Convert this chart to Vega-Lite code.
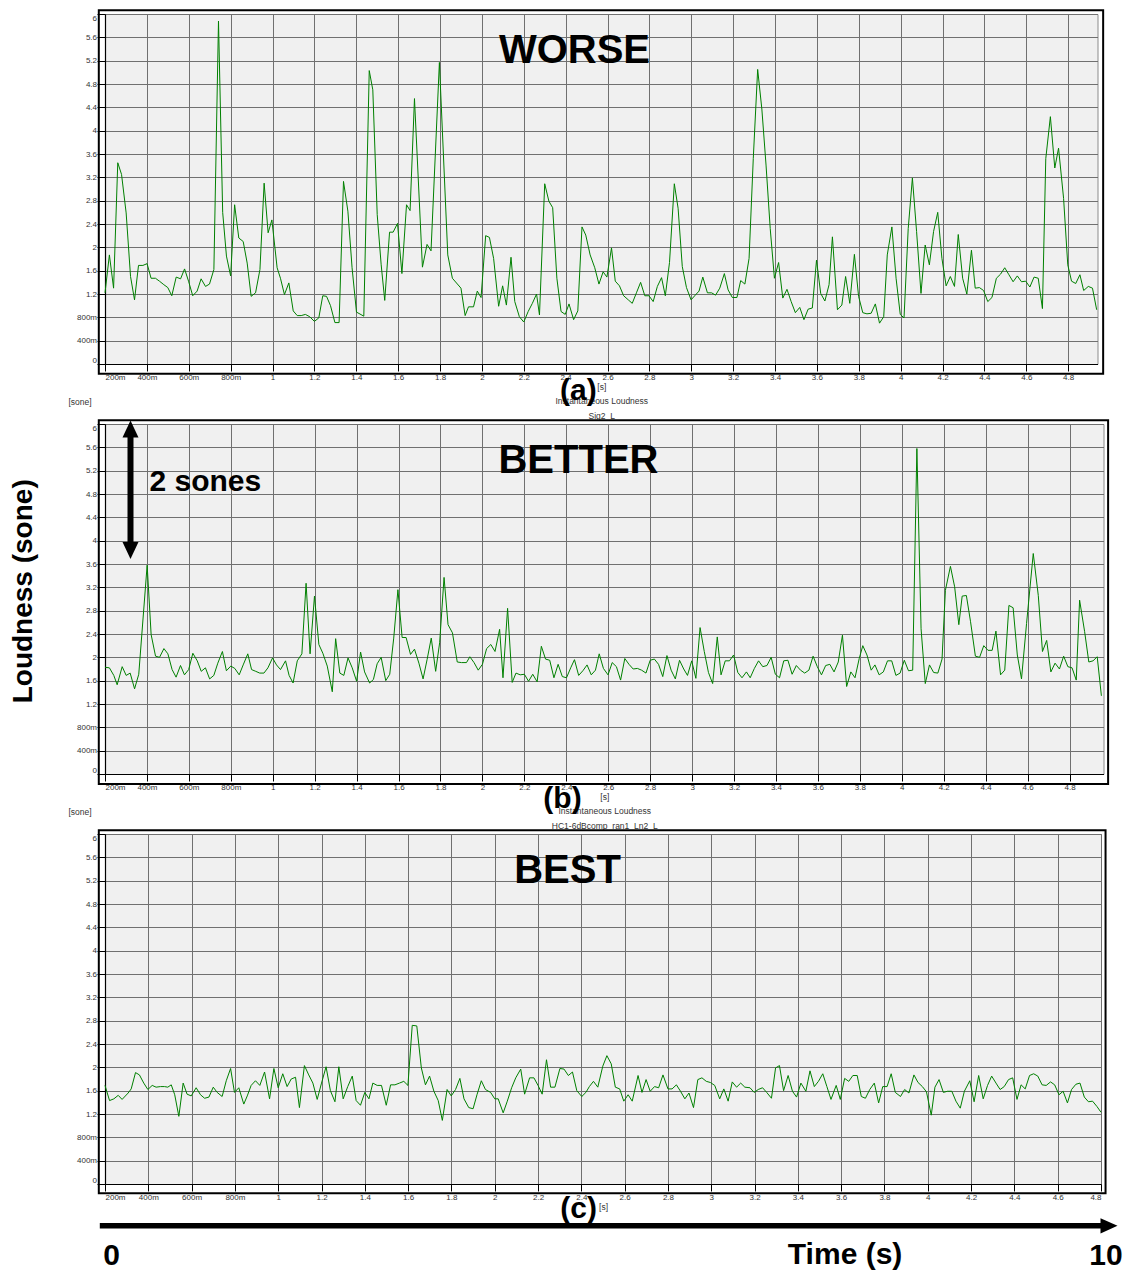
{
"$schema": "https://vega.github.io/schema/vega-lite/v6.json",
"padding": {"left": 9, "top": 8, "right": 5, "bottom": 5},
"background": "white",
"bounds": "flush",
"spacing": 60,
"config": {
  "font": "Liberation Sans",
  "view": {"fill": "#f0f0f0", "stroke": "#8c8c8c", "strokeWidth": 1},
  "axis": {"domainColor": "#000", "domainWidth": 1.2, "tickColor": "#000", "tickWidth": 1, "labelFont": "Liberation Sans", "labelFontSize": 8, "labelColor": "#333", "gridColor": "#707070", "gridWidth": 1, "gridOpacity": 1, "titleFont": "Liberation Sans", "titleFontWeight": "normal", "titleFontSize": 8.5, "titleColor": "#333", "labelOverlap": false, "labelFlush": true, "tickCount": 40},
  "axisX": {"tickSize": 7, "labelPadding": 2, "titleLineHeight": 14.5, "titlePadding": 1},
  "axisY": {"tickSize": 8, "labelPadding": 0.5}
},
"datasets": {
"a": [
{"t":0.2,"v":1.22},{"t":0.221,"v":1.87},{"t":0.241,"v":1.3},{"t":0.261,"v":3.45},{"t":0.279,"v":3.25},{"t":0.301,"v":2.59},{"t":0.322,"v":1.5},{"t":0.341,"v":1.1},{"t":0.36,"v":1.69},{"t":0.381,"v":1.69},{"t":0.401,"v":1.72},{"t":0.42,"v":1.47},{"t":0.441,"v":1.47},{"t":0.46,"v":1.42},{"t":0.481,"v":1.36},{"t":0.5,"v":1.31},{"t":0.519,"v":1.17},{"t":0.54,"v":1.49},{"t":0.561,"v":1.46},{"t":0.58,"v":1.63},{"t":0.599,"v":1.42},{"t":0.619,"v":1.17},{"t":0.64,"v":1.25},{"t":0.659,"v":1.46},{"t":0.68,"v":1.33},{"t":0.699,"v":1.37},{"t":0.72,"v":1.62},{"t":0.742,"v":5.88},{"t":0.762,"v":2.6},{"t":0.78,"v":1.85},{"t":0.8,"v":1.51},{"t":0.819,"v":2.73},{"t":0.839,"v":2.16},{"t":0.86,"v":2.1},{"t":0.879,"v":1.73},{"t":0.898,"v":1.16},{"t":0.919,"v":1.22},{"t":0.94,"v":1.62},{"t":0.96,"v":3.1},{"t":0.979,"v":2.25},{"t":0.997,"v":2.47},{"t":1.022,"v":1.65},{"t":1.038,"v":1.47},{"t":1.057,"v":1.19},{"t":1.078,"v":1.39},{"t":1.099,"v":0.91},{"t":1.118,"v":0.83},{"t":1.137,"v":0.83},{"t":1.157,"v":0.85},{"t":1.178,"v":0.81},{"t":1.2,"v":0.73},{"t":1.221,"v":0.79},{"t":1.24,"v":1.17},{"t":1.258,"v":1.16},{"t":1.277,"v":1.0},{"t":1.298,"v":0.71},{"t":1.318,"v":0.71},{"t":1.339,"v":3.13},{"t":1.36,"v":2.62},{"t":1.38,"v":1.65},{"t":1.401,"v":0.89},{"t":1.436,"v":0.82},{"t":1.462,"v":5.03},{"t":1.479,"v":4.7},{"t":1.5,"v":2.56},{"t":1.519,"v":1.7},{"t":1.536,"v":1.09},{"t":1.559,"v":2.26},{"t":1.576,"v":2.26},{"t":1.597,"v":2.41},{"t":1.618,"v":1.55},{"t":1.64,"v":2.73},{"t":1.657,"v":2.63},{"t":1.678,"v":4.55},{"t":1.716,"v":1.66},{"t":1.738,"v":2.05},{"t":1.757,"v":1.94},{"t":1.797,"v":5.17},{"t":1.837,"v":1.87},{"t":1.859,"v":1.47},{"t":1.9,"v":1.3},{"t":1.92,"v":0.83},{"t":1.936,"v":0.98},{"t":1.96,"v":0.98},{"t":1.978,"v":1.25},{"t":1.996,"v":1.14},{"t":2.018,"v":2.2},{"t":2.036,"v":2.17},{"t":2.056,"v":1.81},{"t":2.08,"v":0.99},{"t":2.099,"v":1.34},{"t":2.117,"v":1.01},{"t":2.139,"v":1.83},{"t":2.157,"v":1.07},{"t":2.179,"v":0.81},{"t":2.2,"v":0.72},{"t":2.221,"v":0.9},{"t":2.241,"v":1.04},{"t":2.261,"v":1.2},{"t":2.275,"v":0.84},{"t":2.3,"v":3.09},{"t":2.32,"v":2.79},{"t":2.338,"v":2.68},{"t":2.358,"v":1.47},{"t":2.378,"v":0.9},{"t":2.398,"v":0.85},{"t":2.416,"v":1.03},{"t":2.438,"v":0.76},{"t":2.458,"v":0.91},{"t":2.478,"v":2.35},{"t":2.496,"v":2.21},{"t":2.517,"v":1.87},{"t":2.539,"v":1.65},{"t":2.559,"v":1.37},{"t":2.579,"v":1.58},{"t":2.597,"v":1.49},{"t":2.619,"v":1.99},{"t":2.637,"v":1.42},{"t":2.657,"v":1.34},{"t":2.677,"v":1.17},{"t":2.699,"v":1.1},{"t":2.718,"v":1.04},{"t":2.738,"v":1.22},{"t":2.758,"v":1.4},{"t":2.778,"v":1.17},{"t":2.798,"v":1.17},{"t":2.818,"v":1.07},{"t":2.838,"v":1.33},{"t":2.858,"v":1.48},{"t":2.876,"v":1.17},{"t":2.896,"v":1.74},{"t":2.919,"v":3.09},{"t":2.937,"v":2.67},{"t":2.957,"v":1.67},{"t":2.977,"v":1.31},{"t":2.999,"v":1.1},{"t":3.019,"v":1.18},{"t":3.037,"v":1.25},{"t":3.055,"v":1.49},{"t":3.077,"v":1.22},{"t":3.097,"v":1.22},{"t":3.116,"v":1.18},{"t":3.136,"v":1.3},{"t":3.158,"v":1.55},{"t":3.176,"v":1.27},{"t":3.196,"v":1.14},{"t":3.218,"v":1.14},{"t":3.236,"v":1.43},{"t":3.256,"v":1.37},{"t":3.276,"v":1.81},{"t":3.296,"v":3.52},{"t":3.317,"v":5.05},{"t":3.337,"v":4.37},{"t":3.357,"v":3.41},{"t":3.377,"v":2.32},{"t":3.397,"v":1.47},{"t":3.417,"v":1.74},{"t":3.437,"v":1.13},{"t":3.457,"v":1.28},{"t":3.477,"v":1.07},{"t":3.497,"v":0.88},{"t":3.518,"v":0.97},{"t":3.538,"v":0.76},{"t":3.558,"v":0.94},{"t":3.578,"v":0.96},{"t":3.598,"v":1.78},{"t":3.618,"v":1.21},{"t":3.638,"v":1.08},{"t":3.658,"v":1.36},{"t":3.674,"v":2.18},{"t":3.698,"v":0.93},{"t":3.719,"v":1.01},{"t":3.737,"v":1.5},{"t":3.757,"v":1.04},{"t":3.779,"v":1.88},{"t":3.799,"v":1.16},{"t":3.819,"v":0.88},{"t":3.839,"v":0.86},{"t":3.859,"v":0.87},{"t":3.879,"v":1.03},{"t":3.899,"v":0.7},{"t":3.919,"v":0.81},{"t":3.936,"v":1.87},{"t":3.958,"v":2.35},{"t":3.978,"v":1.47},{"t":3.998,"v":0.85},{"t":4.016,"v":0.79},{"t":4.036,"v":2.32},{"t":4.056,"v":3.19},{"t":4.076,"v":2.27},{"t":4.097,"v":1.21},{"t":4.117,"v":2.04},{"t":4.137,"v":1.7},{"t":4.157,"v":2.27},{"t":4.177,"v":2.6},{"t":4.197,"v":1.81},{"t":4.217,"v":1.34},{"t":4.237,"v":1.5},{"t":4.257,"v":1.33},{"t":4.275,"v":2.22},{"t":4.296,"v":1.47},{"t":4.316,"v":1.2},{"t":4.338,"v":1.95},{"t":4.356,"v":1.3},{"t":4.376,"v":1.31},{"t":4.396,"v":1.26},{"t":4.416,"v":1.07},{"t":4.436,"v":1.14},{"t":4.457,"v":1.47},{"t":4.477,"v":1.54},{"t":4.497,"v":1.65},{"t":4.517,"v":1.53},{"t":4.537,"v":1.41},{"t":4.557,"v":1.51},{"t":4.577,"v":1.41},{"t":4.597,"v":1.42},{"t":4.617,"v":1.32},{"t":4.637,"v":1.49},{"t":4.657,"v":1.47},{"t":4.677,"v":0.95},{"t":4.693,"v":3.52},{"t":4.715,"v":4.24},{"t":4.736,"v":3.36},{"t":4.754,"v":3.7},{"t":4.778,"v":2.84},{"t":4.798,"v":1.7},{"t":4.816,"v":1.42},{"t":4.836,"v":1.38},{"t":4.856,"v":1.53},{"t":4.874,"v":1.26},{"t":4.896,"v":1.33},{"t":4.916,"v":1.3},{"t":4.936,"v":0.93}
],
"b": [
{"t":0.2,"v":1.83},{"t":0.221,"v":1.82},{"t":0.242,"v":1.69},{"t":0.258,"v":1.53},{"t":0.282,"v":1.84},{"t":0.301,"v":1.69},{"t":0.32,"v":1.73},{"t":0.341,"v":1.46},{"t":0.361,"v":1.71},{"t":0.401,"v":3.58},{"t":0.42,"v":2.39},{"t":0.441,"v":2.02},{"t":0.46,"v":2.0},{"t":0.481,"v":2.15},{"t":0.5,"v":2.06},{"t":0.52,"v":1.79},{"t":0.539,"v":1.66},{"t":0.56,"v":1.86},{"t":0.579,"v":1.7},{"t":0.599,"v":1.79},{"t":0.619,"v":2.07},{"t":0.64,"v":1.94},{"t":0.659,"v":1.76},{"t":0.679,"v":1.82},{"t":0.699,"v":1.63},{"t":0.719,"v":1.69},{"t":0.738,"v":1.9},{"t":0.76,"v":2.1},{"t":0.779,"v":1.77},{"t":0.8,"v":1.85},{"t":0.819,"v":1.81},{"t":0.84,"v":1.7},{"t":0.859,"v":1.87},{"t":0.881,"v":2.06},{"t":0.899,"v":1.79},{"t":0.919,"v":1.76},{"t":0.938,"v":1.73},{"t":0.958,"v":1.73},{"t":0.977,"v":1.82},{"t":0.999,"v":1.99},{"t":1.018,"v":1.87},{"t":1.037,"v":1.79},{"t":1.061,"v":1.94},{"t":1.078,"v":1.69},{"t":1.097,"v":1.56},{"t":1.117,"v":1.94},{"t":1.139,"v":2.06},{"t":1.159,"v":3.27},{"t":1.178,"v":2.06},{"t":1.199,"v":3.05},{"t":1.22,"v":2.22},{"t":1.239,"v":2.07},{"t":1.26,"v":1.85},{"t":1.284,"v":1.41},{"t":1.3,"v":2.32},{"t":1.32,"v":1.73},{"t":1.339,"v":1.69},{"t":1.359,"v":1.99},{"t":1.379,"v":1.82},{"t":1.4,"v":1.59},{"t":1.419,"v":2.09},{"t":1.438,"v":1.75},{"t":1.462,"v":1.56},{"t":1.48,"v":1.62},{"t":1.498,"v":1.89},{"t":1.517,"v":2.0},{"t":1.539,"v":1.6},{"t":1.558,"v":1.71},{"t":1.577,"v":2.33},{"t":1.597,"v":3.16},{"t":1.617,"v":2.34},{"t":1.636,"v":2.34},{"t":1.657,"v":2.05},{"t":1.676,"v":2.14},{"t":1.697,"v":1.9},{"t":1.717,"v":1.63},{"t":1.736,"v":1.96},{"t":1.756,"v":2.33},{"t":1.777,"v":1.76},{"t":1.796,"v":2.25},{"t":1.817,"v":3.37},{"t":1.836,"v":2.56},{"t":1.857,"v":2.42},{"t":1.88,"v":1.92},{"t":1.9,"v":1.91},{"t":1.924,"v":1.91},{"t":1.94,"v":2.01},{"t":1.96,"v":1.91},{"t":1.98,"v":1.78},{"t":2.0,"v":1.88},{"t":2.02,"v":2.15},{"t":2.04,"v":2.22},{"t":2.06,"v":2.1},{"t":2.082,"v":2.48},{"t":2.098,"v":1.65},{"t":2.12,"v":2.84},{"t":2.142,"v":1.57},{"t":2.16,"v":1.73},{"t":2.18,"v":1.7},{"t":2.2,"v":1.71},{"t":2.22,"v":1.59},{"t":2.24,"v":1.71},{"t":2.261,"v":1.58},{"t":2.281,"v":2.19},{"t":2.301,"v":1.97},{"t":2.321,"v":1.95},{"t":2.341,"v":1.65},{"t":2.361,"v":1.88},{"t":2.381,"v":1.67},{"t":2.401,"v":1.65},{"t":2.421,"v":1.82},{"t":2.439,"v":1.96},{"t":2.459,"v":1.69},{"t":2.479,"v":1.77},{"t":2.499,"v":1.87},{"t":2.519,"v":1.7},{"t":2.539,"v":1.78},{"t":2.557,"v":2.06},{"t":2.577,"v":1.81},{"t":2.599,"v":1.7},{"t":2.619,"v":1.91},{"t":2.639,"v":1.84},{"t":2.659,"v":1.61},{"t":2.679,"v":1.98},{"t":2.699,"v":1.88},{"t":2.719,"v":1.8},{"t":2.739,"v":1.81},{"t":2.759,"v":1.78},{"t":2.78,"v":1.73},{"t":2.8,"v":1.95},{"t":2.82,"v":1.97},{"t":2.84,"v":1.88},{"t":2.86,"v":1.67},{"t":2.88,"v":2.03},{"t":2.9,"v":1.78},{"t":2.92,"v":1.63},{"t":2.94,"v":1.95},{"t":2.96,"v":1.8},{"t":2.978,"v":1.69},{"t":2.998,"v":1.94},{"t":3.018,"v":1.64},{"t":3.038,"v":2.51},{"t":3.058,"v":2.1},{"t":3.078,"v":1.74},{"t":3.098,"v":1.55},{"t":3.12,"v":2.35},{"t":3.138,"v":1.7},{"t":3.158,"v":1.94},{"t":3.178,"v":1.94},{"t":3.198,"v":2.04},{"t":3.218,"v":1.74},{"t":3.238,"v":1.65},{"t":3.259,"v":1.75},{"t":3.277,"v":1.65},{"t":3.297,"v":1.81},{"t":3.317,"v":1.94},{"t":3.337,"v":1.84},{"t":3.357,"v":1.86},{"t":3.377,"v":2.0},{"t":3.397,"v":1.71},{"t":3.417,"v":1.65},{"t":3.437,"v":1.94},{"t":3.457,"v":1.95},{"t":3.477,"v":1.71},{"t":3.497,"v":1.86},{"t":3.517,"v":1.78},{"t":3.537,"v":1.73},{"t":3.557,"v":1.78},{"t":3.577,"v":2.02},{"t":3.597,"v":1.84},{"t":3.617,"v":1.7},{"t":3.637,"v":1.86},{"t":3.657,"v":1.88},{"t":3.677,"v":1.75},{"t":3.697,"v":1.92},{"t":3.717,"v":2.38},{"t":3.737,"v":1.5},{"t":3.757,"v":1.75},{"t":3.777,"v":1.65},{"t":3.797,"v":1.98},{"t":3.814,"v":2.2},{"t":3.834,"v":2.04},{"t":3.854,"v":1.78},{"t":3.872,"v":1.87},{"t":3.892,"v":1.7},{"t":3.912,"v":1.75},{"t":3.932,"v":1.94},{"t":3.952,"v":1.94},{"t":3.972,"v":1.69},{"t":3.992,"v":1.73},{"t":4.012,"v":1.95},{"t":4.032,"v":1.77},{"t":4.052,"v":1.78},{"t":4.072,"v":5.58},{"t":4.092,"v":2.49},{"t":4.112,"v":1.55},{"t":4.132,"v":1.87},{"t":4.152,"v":1.74},{"t":4.172,"v":1.73},{"t":4.192,"v":1.97},{"t":4.208,"v":3.15},{"t":4.232,"v":3.56},{"t":4.252,"v":3.21},{"t":4.272,"v":2.56},{"t":4.288,"v":3.05},{"t":4.308,"v":3.06},{"t":4.328,"v":2.61},{"t":4.351,"v":2.02},{"t":4.371,"v":2.0},{"t":4.391,"v":2.2},{"t":4.411,"v":2.12},{"t":4.431,"v":2.12},{"t":4.449,"v":2.45},{"t":4.471,"v":1.7},{"t":4.491,"v":1.78},{"t":4.511,"v":2.89},{"t":4.531,"v":2.85},{"t":4.551,"v":2.04},{"t":4.571,"v":1.63},{"t":4.595,"v":2.58},{"t":4.627,"v":3.78},{"t":4.651,"v":3.06},{"t":4.671,"v":2.1},{"t":4.691,"v":2.29},{"t":4.711,"v":1.75},{"t":4.731,"v":1.9},{"t":4.752,"v":1.8},{"t":4.772,"v":2.02},{"t":4.792,"v":1.84},{"t":4.812,"v":1.82},{"t":4.832,"v":1.61},{"t":4.848,"v":2.98},{"t":4.872,"v":2.44},{"t":4.892,"v":1.92},{"t":4.912,"v":1.94},{"t":4.932,"v":2.01},{"t":4.952,"v":1.34}
],
"c": [
{"t":0.2,"v":1.69},{"t":0.221,"v":1.43},{"t":0.241,"v":1.46},{"t":0.261,"v":1.52},{"t":0.279,"v":1.45},{"t":0.307,"v":1.56},{"t":0.321,"v":1.63},{"t":0.341,"v":1.91},{"t":0.359,"v":1.87},{"t":0.379,"v":1.73},{"t":0.398,"v":1.62},{"t":0.418,"v":1.69},{"t":0.436,"v":1.66},{"t":0.456,"v":1.67},{"t":0.475,"v":1.67},{"t":0.49,"v":1.66},{"t":0.506,"v":1.7},{"t":0.522,"v":1.53},{"t":0.541,"v":1.16},{"t":0.561,"v":1.73},{"t":0.579,"v":1.54},{"t":0.598,"v":1.51},{"t":0.621,"v":1.65},{"t":0.641,"v":1.53},{"t":0.66,"v":1.47},{"t":0.68,"v":1.49},{"t":0.7,"v":1.66},{"t":0.718,"v":1.57},{"t":0.741,"v":1.5},{"t":0.76,"v":1.77},{"t":0.78,"v":1.98},{"t":0.798,"v":1.57},{"t":0.818,"v":1.65},{"t":0.841,"v":1.37},{"t":0.857,"v":1.51},{"t":0.875,"v":1.69},{"t":0.895,"v":1.77},{"t":0.915,"v":1.69},{"t":0.937,"v":1.92},{"t":0.96,"v":1.46},{"t":0.98,"v":1.98},{"t":1.0,"v":1.65},{"t":1.021,"v":1.89},{"t":1.041,"v":1.67},{"t":1.06,"v":1.8},{"t":1.08,"v":1.83},{"t":1.098,"v":1.31},{"t":1.121,"v":2.03},{"t":1.141,"v":1.87},{"t":1.16,"v":1.73},{"t":1.18,"v":1.45},{"t":1.2,"v":1.73},{"t":1.221,"v":2.01},{"t":1.241,"v":1.6},{"t":1.262,"v":1.41},{"t":1.28,"v":2.01},{"t":1.3,"v":1.46},{"t":1.321,"v":1.67},{"t":1.342,"v":1.85},{"t":1.36,"v":1.43},{"t":1.38,"v":1.35},{"t":1.4,"v":1.57},{"t":1.419,"v":1.46},{"t":1.437,"v":1.73},{"t":1.457,"v":1.69},{"t":1.477,"v":1.69},{"t":1.499,"v":1.35},{"t":1.519,"v":1.7},{"t":1.539,"v":1.7},{"t":1.56,"v":1.73},{"t":1.58,"v":1.76},{"t":1.599,"v":1.69},{"t":1.619,"v":2.72},{"t":1.64,"v":2.71},{"t":1.661,"v":1.99},{"t":1.68,"v":1.7},{"t":1.699,"v":1.85},{"t":1.719,"v":1.59},{"t":1.739,"v":1.43},{"t":1.758,"v":1.09},{"t":1.78,"v":1.62},{"t":1.799,"v":1.51},{"t":1.819,"v":1.62},{"t":1.839,"v":1.81},{"t":1.858,"v":1.46},{"t":1.88,"v":1.31},{"t":1.9,"v":1.29},{"t":1.918,"v":1.53},{"t":1.938,"v":1.77},{"t":1.957,"v":1.62},{"t":1.981,"v":1.57},{"t":2.0,"v":1.46},{"t":2.016,"v":1.46},{"t":2.039,"v":1.22},{"t":2.058,"v":1.42},{"t":2.078,"v":1.65},{"t":2.097,"v":1.82},{"t":2.12,"v":1.97},{"t":2.138,"v":1.54},{"t":2.161,"v":1.82},{"t":2.181,"v":1.82},{"t":2.2,"v":1.69},{"t":2.219,"v":1.54},{"t":2.239,"v":2.13},{"t":2.258,"v":1.66},{"t":2.278,"v":1.66},{"t":2.301,"v":1.98},{"t":2.32,"v":1.97},{"t":2.34,"v":1.86},{"t":2.359,"v":1.92},{"t":2.379,"v":1.6},{"t":2.402,"v":1.5},{"t":2.421,"v":1.57},{"t":2.437,"v":1.67},{"t":2.456,"v":1.76},{"t":2.476,"v":1.66},{"t":2.499,"v":2.02},{"t":2.518,"v":2.2},{"t":2.538,"v":2.06},{"t":2.557,"v":1.66},{"t":2.577,"v":1.63},{"t":2.596,"v":1.42},{"t":2.616,"v":1.53},{"t":2.635,"v":1.42},{"t":2.662,"v":1.86},{"t":2.68,"v":1.57},{"t":2.699,"v":1.79},{"t":2.718,"v":1.59},{"t":2.738,"v":1.67},{"t":2.757,"v":1.65},{"t":2.777,"v":1.87},{"t":2.8,"v":1.63},{"t":2.819,"v":1.63},{"t":2.839,"v":1.7},{"t":2.858,"v":1.59},{"t":2.878,"v":1.46},{"t":2.897,"v":1.56},{"t":2.918,"v":1.31},{"t":2.938,"v":1.79},{"t":2.957,"v":1.82},{"t":2.977,"v":1.76},{"t":2.996,"v":1.74},{"t":3.016,"v":1.69},{"t":3.039,"v":1.46},{"t":3.058,"v":1.63},{"t":3.078,"v":1.42},{"t":3.097,"v":1.75},{"t":3.117,"v":1.66},{"t":3.136,"v":1.73},{"t":3.155,"v":1.66},{"t":3.179,"v":1.65},{"t":3.198,"v":1.57},{"t":3.217,"v":1.62},{"t":3.237,"v":1.65},{"t":3.256,"v":1.57},{"t":3.278,"v":1.47},{"t":3.297,"v":1.99},{"t":3.315,"v":2.03},{"t":3.334,"v":1.6},{"t":3.355,"v":1.86},{"t":3.375,"v":1.59},{"t":3.394,"v":1.49},{"t":3.414,"v":1.73},{"t":3.437,"v":1.59},{"t":3.456,"v":1.94},{"t":3.476,"v":1.67},{"t":3.495,"v":1.76},{"t":3.515,"v":1.89},{"t":3.534,"v":1.67},{"t":3.553,"v":1.45},{"t":3.577,"v":1.69},{"t":3.596,"v":1.45},{"t":3.616,"v":1.81},{"t":3.635,"v":1.76},{"t":3.654,"v":1.86},{"t":3.674,"v":1.86},{"t":3.693,"v":1.5},{"t":3.712,"v":1.47},{"t":3.732,"v":1.62},{"t":3.753,"v":1.73},{"t":3.773,"v":1.39},{"t":3.792,"v":1.67},{"t":3.812,"v":1.67},{"t":3.831,"v":1.89},{"t":3.85,"v":1.57},{"t":3.874,"v":1.5},{"t":3.893,"v":1.62},{"t":3.913,"v":1.56},{"t":3.936,"v":1.87},{"t":3.955,"v":1.74},{"t":3.975,"v":1.67},{"t":3.994,"v":1.58},{"t":4.016,"v":1.18},{"t":4.033,"v":1.66},{"t":4.052,"v":1.79},{"t":4.072,"v":1.57},{"t":4.091,"v":1.59},{"t":4.111,"v":1.59},{"t":4.13,"v":1.42},{"t":4.15,"v":1.3},{"t":4.169,"v":1.59},{"t":4.194,"v":1.77},{"t":4.214,"v":1.41},{"t":4.235,"v":1.86},{"t":4.256,"v":1.46},{"t":4.276,"v":1.69},{"t":4.295,"v":1.85},{"t":4.315,"v":1.73},{"t":4.334,"v":1.62},{"t":4.353,"v":1.67},{"t":4.373,"v":1.79},{"t":4.392,"v":1.82},{"t":4.412,"v":1.45},{"t":4.431,"v":1.7},{"t":4.45,"v":1.63},{"t":4.47,"v":1.86},{"t":4.489,"v":1.89},{"t":4.508,"v":1.85},{"t":4.528,"v":1.7},{"t":4.547,"v":1.69},{"t":4.567,"v":1.75},{"t":4.586,"v":1.7},{"t":4.606,"v":1.53},{"t":4.625,"v":1.59},{"t":4.645,"v":1.39},{"t":4.664,"v":1.62},{"t":4.684,"v":1.71},{"t":4.703,"v":1.73},{"t":4.723,"v":1.49},{"t":4.742,"v":1.41},{"t":4.761,"v":1.42},{"t":4.781,"v":1.33},{"t":4.8,"v":1.23}
]
},
"vconcat": [
{
"width": 992.5, "height": 350,
"layer": [
{"data": {"name": "a"}, "mark": {"type": "line", "color": "#008000", "strokeWidth": 1},
 "encoding": {
  "x": {"field": "t", "type": "quantitative", "scale": {"domain": [0.2, 4.94], "nice": false, "zero": false},
        "axis": {"values": [0.2,0.4,0.6,0.8,1,1.2,1.4,1.6,1.8,2,2.2,2.4,2.6,2.8,3,3.2,3.4,3.6,3.8,4,4.2,4.4,4.6,4.8], "tickCount": 40, "labelExpr": "datum.value < 0.99 ? round(datum.value*1000) + 'm' : format(datum.value, '.1~f')", "title": ["[s]", "Instantaneous Loudness", "Sig2_L"]}},
  "y": {"field": "v", "type": "quantitative", "scale": {"domain": [0, 6], "nice": false, "zero": false},
        "axis": {"values": [0,0.4,0.8,1.2,1.6,2,2.4,2.8,3.2,3.6,4,4.4,4.8,5.2,5.6,6], "tickCount": 40, "labelExpr": "datum.value == 0 ? '0' : datum.value < 0.99 ? round(datum.value*1000) + 'm' : format(datum.value, '.1~f')", "title": null}}}},
{"data": {"values": [{}]}, "mark": {"type": "rect", "filled": false, "color": "#000", "strokeWidth": 2},
 "encoding": {"x": {"datum": 0.1704, "type": "quantitative", "scale": {"domain": [0.2, 4.94], "nice": false, "zero": false}}, "x2": {"datum": 4.967}, "y": {"datum": 6.064, "type": "quantitative", "scale": {"domain": [0, 6], "nice": false, "zero": false}}, "y2": {"datum": -0.165}}},
{"data": {"values": [{}]}, "mark": {"type": "text", "text": "WORSE", "fontSize": 40, "fontWeight": "bold", "align": "center", "baseline": "alphabetic", "color": "#000"},
 "encoding": {"x": {"datum": 2.442, "type": "quantitative", "scale": {"domain": [0.2, 4.94], "nice": false, "zero": false}}, "y": {"datum": 5.155, "type": "quantitative", "scale": {"domain": [0, 6], "nice": false, "zero": false}}}},
{"data": {"values": [{}]}, "mark": {"type": "text", "text": "(a)", "fontSize": 30, "fontWeight": "bold", "align": "center", "baseline": "middle", "color": "#000"},
 "encoding": {"x": {"datum": 2.461, "type": "quantitative", "scale": {"domain": [0.2, 4.94], "nice": false, "zero": false}}, "y": {"datum": -0.47, "type": "quantitative", "scale": {"domain": [0, 6], "nice": false, "zero": false}}}}
]
},
{
"width": 998.5, "height": 350,
"layer": [
{"data": {"name": "b"}, "mark": {"type": "line", "color": "#008000", "strokeWidth": 1},
 "encoding": {
  "x": {"field": "t", "type": "quantitative", "scale": {"domain": [0.2, 4.962], "nice": false, "zero": false},
        "axis": {"values": [0.2,0.4,0.6,0.8,1,1.2,1.4,1.6,1.8,2,2.2,2.4,2.6,2.8,3,3.2,3.4,3.6,3.8,4,4.2,4.4,4.6,4.8], "tickCount": 40, "labelExpr": "datum.value < 0.99 ? round(datum.value*1000) + 'm' : format(datum.value, '.1~f')", "title": ["[s]", "Instantaneous Loudness", "HC1-6dBcomp_ran1_Ln2_L"]}},
  "y": {"field": "v", "type": "quantitative", "scale": {"domain": [0, 6], "nice": false, "zero": false},
        "axis": {"values": [0,0.4,0.8,1.2,1.6,2,2.4,2.8,3.2,3.6,4,4.4,4.8,5.2,5.6,6], "tickCount": 40, "labelExpr": "datum.value == 0 ? '0' : datum.value < 0.99 ? round(datum.value*1000) + 'm' : format(datum.value, '.1~f')", "title": "[sone]", "titleAngle": 0, "titleX": -25.5, "titleY": -22.5, "titleAlign": "center", "titleBaseline": "middle"}}}},
{"data": {"values": [{}]}, "mark": {"type": "rect", "filled": false, "color": "#000", "strokeWidth": 2},
 "encoding": {"x": {"datum": 0.1704, "type": "quantitative", "scale": {"domain": [0.2, 4.962], "nice": false, "zero": false}}, "x2": {"datum": 4.984}, "y": {"datum": 6.064, "type": "quantitative", "scale": {"domain": [0, 6], "nice": false, "zero": false}}, "y2": {"datum": -0.171}}},
{"data": {"values": [{}]}, "mark": {"type": "text", "text": "BETTER", "fontSize": 40, "fontWeight": "bold", "align": "center", "baseline": "alphabetic", "color": "#000"},
 "encoding": {"x": {"datum": 2.458, "type": "quantitative", "scale": {"domain": [0.2, 4.962], "nice": false, "zero": false}}, "y": {"datum": 5.155, "type": "quantitative", "scale": {"domain": [0, 6], "nice": false, "zero": false}}}},
{"data": {"values": [{}]}, "mark": {"type": "text", "text": "(b)", "fontSize": 30, "fontWeight": "bold", "align": "center", "baseline": "middle", "color": "#000"},
 "encoding": {"x": {"datum": 2.382, "type": "quantitative", "scale": {"domain": [0.2, 4.962], "nice": false, "zero": false}}, "y": {"datum": -0.434, "type": "quantitative", "scale": {"domain": [0, 6], "nice": false, "zero": false}}}},
{"data": {"values": [{}]}, "mark": {"type": "text", "text": "2 sones", "fontSize": 30, "fontWeight": "bold", "align": "left", "baseline": "alphabetic", "color": "#000"},
 "encoding": {"x": {"datum": 0.4122, "type": "quantitative", "scale": {"domain": [0.2, 4.962], "nice": false, "zero": false}}, "y": {"datum": 4.85, "type": "quantitative", "scale": {"domain": [0, 6], "nice": false, "zero": false}}}},
{"data": {"values": [{}]}, "mark": {"type": "text", "text": "Loudness (sone)", "fontSize": 28, "fontWeight": "bold", "align": "center", "baseline": "alphabetic", "angle": 270, "color": "#000"},
 "encoding": {"x": {"datum": -0.148, "type": "quantitative", "scale": {"domain": [0.2, 4.962], "nice": false, "zero": false}}, "y": {"datum": 3.132, "type": "quantitative", "scale": {"domain": [0, 6], "nice": false, "zero": false}}}},
{"data": {"values": [{}]}, "mark": {"type": "rule", "color": "#000", "strokeWidth": 6},
 "encoding": {"x": {"datum": 0.3216, "type": "quantitative", "scale": {"domain": [0.2, 4.962], "nice": false, "zero": false}}, "y": {"datum": 5.85, "type": "quantitative", "scale": {"domain": [0, 6], "nice": false, "zero": false}}, "y2": {"datum": 3.9}}},
{"data": {"values": [{}]}, "mark": {"type": "point", "shape": "M0,-1L0.94,1L-0.94,1Z", "size": 289, "filled": true, "opacity": 1, "color": "#000", "strokeWidth": 0},
 "encoding": {"x": {"datum": 0.3216, "type": "quantitative", "scale": {"domain": [0.2, 4.962], "nice": false, "zero": false}}, "y": {"datum": 5.915, "type": "quantitative", "scale": {"domain": [0, 6], "nice": false, "zero": false}}}},
{"data": {"values": [{}]}, "mark": {"type": "point", "shape": "M0,1L0.94,-1L-0.94,-1Z", "size": 289, "filled": true, "opacity": 1, "color": "#000", "strokeWidth": 0},
 "encoding": {"x": {"datum": 0.3216, "type": "quantitative", "scale": {"domain": [0.2, 4.962], "nice": false, "zero": false}}, "y": {"datum": 3.83, "type": "quantitative", "scale": {"domain": [0, 6], "nice": false, "zero": false}}}}
]
},
{
"width": 996, "height": 350,
"layer": [
{"data": {"name": "c"}, "mark": {"type": "line", "color": "#008000", "strokeWidth": 1},
 "encoding": {
  "x": {"field": "t", "type": "quantitative", "scale": {"domain": [0.2, 4.8], "nice": false, "zero": false},
        "axis": {"values": [0.2,0.4,0.6,0.8,1,1.2,1.4,1.6,1.8,2,2.2,2.4,2.6,2.8,3,3.2,3.4,3.6,3.8,4,4.2,4.4,4.6,4.8], "tickCount": 40, "labelExpr": "datum.value < 0.99 ? round(datum.value*1000) + 'm' : format(datum.value, '.1~f')", "title": "[s]"}},
  "y": {"field": "v", "type": "quantitative", "scale": {"domain": [0, 6], "nice": false, "zero": false},
        "axis": {"values": [0,0.4,0.8,1.2,1.6,2,2.4,2.8,3.2,3.6,4,4.4,4.8,5.2,5.6,6], "tickCount": 40, "labelExpr": "datum.value == 0 ? '0' : datum.value < 0.99 ? round(datum.value*1000) + 'm' : format(datum.value, '.1~f')", "title": "[sone]", "titleAngle": 0, "titleX": -25.5, "titleY": -22.5, "titleAlign": "center", "titleBaseline": "middle"}}}},
{"data": {"values": [{}]}, "mark": {"type": "rect", "filled": false, "color": "#000", "strokeWidth": 2},
 "encoding": {"x": {"datum": 0.1714, "type": "quantitative", "scale": {"domain": [0.2, 4.8], "nice": false, "zero": false}}, "x2": {"datum": 4.821}, "y": {"datum": 6.064, "type": "quantitative", "scale": {"domain": [0, 6], "nice": false, "zero": false}}, "y2": {"datum": -0.159}}},
{"data": {"values": [{}]}, "mark": {"type": "text", "text": "BEST", "fontSize": 40, "fontWeight": "bold", "align": "center", "baseline": "alphabetic", "color": "#000"},
 "encoding": {"x": {"datum": 2.336, "type": "quantitative", "scale": {"domain": [0.2, 4.8], "nice": false, "zero": false}}, "y": {"datum": 5.155, "type": "quantitative", "scale": {"domain": [0, 6], "nice": false, "zero": false}}}},
{"data": {"values": [{}]}, "mark": {"type": "text", "text": "(c)", "fontSize": 30, "fontWeight": "bold", "align": "center", "baseline": "middle", "color": "#000"},
 "encoding": {"x": {"datum": 2.387, "type": "quantitative", "scale": {"domain": [0.2, 4.8], "nice": false, "zero": false}}, "y": {"datum": -0.434, "type": "quantitative", "scale": {"domain": [0, 6], "nice": false, "zero": false}}}},
{"data": {"values": [{}]}, "mark": {"type": "rule", "color": "#000", "strokeWidth": 5.5},
 "encoding": {"x": {"datum": 0.176, "type": "quantitative", "scale": {"domain": [0.2, 4.8], "nice": false, "zero": false}}, "x2": {"datum": 4.81}, "y": {"datum": -0.717, "type": "quantitative", "scale": {"domain": [0, 6], "nice": false, "zero": false}}}},
{"data": {"values": [{}]}, "mark": {"type": "point", "shape": "M1,0L-1,-0.9L-1,0.9Z", "size": 289, "filled": true, "opacity": 1, "color": "#000", "strokeWidth": 0},
 "encoding": {"x": {"datum": 4.837, "type": "quantitative", "scale": {"domain": [0.2, 4.8], "nice": false, "zero": false}}, "y": {"datum": -0.717, "type": "quantitative", "scale": {"domain": [0, 6], "nice": false, "zero": false}}}},
{"data": {"values": [{}]}, "mark": {"type": "text", "text": "0", "fontSize": 30, "fontWeight": "bold", "align": "center", "baseline": "alphabetic", "color": "#000"},
 "encoding": {"x": {"datum": 0.23, "type": "quantitative", "scale": {"domain": [0.2, 4.8], "nice": false, "zero": false}}, "y": {"datum": -1.394, "type": "quantitative", "scale": {"domain": [0, 6], "nice": false, "zero": false}}}},
{"data": {"values": [{}]}, "mark": {"type": "text", "text": "Time (s)", "fontSize": 30, "fontWeight": "bold", "align": "center", "baseline": "alphabetic", "color": "#000"},
 "encoding": {"x": {"datum": 3.618, "type": "quantitative", "scale": {"domain": [0.2, 4.8], "nice": false, "zero": false}}, "y": {"datum": -1.37, "type": "quantitative", "scale": {"domain": [0, 6], "nice": false, "zero": false}}}},
{"data": {"values": [{}]}, "mark": {"type": "text", "text": "10", "fontSize": 30, "fontWeight": "bold", "align": "center", "baseline": "alphabetic", "color": "#000"},
 "encoding": {"x": {"datum": 4.823, "type": "quantitative", "scale": {"domain": [0.2, 4.8], "nice": false, "zero": false}}, "y": {"datum": -1.394, "type": "quantitative", "scale": {"domain": [0, 6], "nice": false, "zero": false}}}}
]
}
]
}
